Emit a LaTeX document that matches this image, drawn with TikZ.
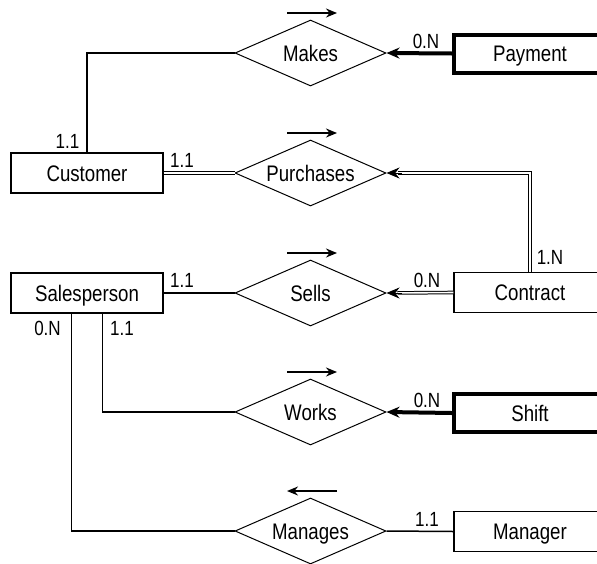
\documentclass[tikz,border=0pt]{standalone}
\usepackage{fontspec}
\setmainfont{Liberation Sans}[FakeStretch=0.83]
\usetikzlibrary{shapes.geometric,arrows.meta,calc}
\begin{document}
\begin{tikzpicture}[x=1pt,y=-1pt,
  ent/.style={draw, line width=1.3pt, minimum width=152pt, minimum height=40pt, inner sep=0pt,
    font=\fontsize{22.5}{22.5}\selectfont, text height=16pt, text depth=0pt},
  wk/.style={ent, line width=4pt, minimum height=38pt},
  rel/.style={draw, diamond, line width=1pt, minimum width=151pt, minimum height=66pt, inner sep=0pt,
    aspect=2.3, font=\fontsize{22.5}{22.5}\selectfont, text height=16pt, text depth=0pt},
  lab/.style={inner sep=0pt, font=\fontsize{20.5}{20.5}\selectfont},
  ln/.style={line width=1.5pt},
  thk/.style={line width=4pt},
  dbl/.style={double, double distance=1.6pt, line width=1pt},
  tip/.style={-{Stealth[length=13pt,width=11pt]}},
  dirarr/.style={line width=1.6pt, -{Stealth[length=11pt,width=9pt]}}
]
\useasboundingbox (0,0) rectangle (597,563);
\clip (0,0) rectangle (597,563);

% relationships
\node[rel] (makes) at (310.5,53) {Makes};
\node[rel] (purch) at (310.5,173) {Purchases};
\node[rel] (sells) at (310.5,293) {Sells};
\node[rel] (works) at (310.5,412) {Works};
\node[rel] (manages) at (310.5,531) {Manages};

% entities
\node[ent] (cust) at (87,173) {Customer};
\node[ent] (sales) at (87,293) {Salesperson};
\node[wk] (pay) at (530,53.5) {Payment};
\node[ent] (contr) at (530,292.5) {Contract};
\node[wk] (shift) at (530,413) {Shift};
\node[ent] (mgr) at (530,531.5) {Manager};

% direction arrows
\coordinate (m1) at (287,13); \coordinate (m2) at (337,13);
\coordinate (p1) at (287,133); \coordinate (p2) at (337,133);
\coordinate (s1) at (287,253); \coordinate (s2) at (337,253);
\coordinate (w1) at (287,372); \coordinate (w2) at (337,372);
\coordinate (g1) at (287,491); \coordinate (g2) at (337,491);
\draw[dirarr] (m1) -- (m2);
\draw[dirarr] (p1) -- (p2);
\draw[dirarr] (s1) -- (s2);
\draw[dirarr] (w1) -- (w2);
\draw[dirarr] (g2) -- (g1);

% connectors
\draw[ln] (cust.north) |- (makes.west);
\draw[thk, tip] (pay.west) -- (makes.east);
\draw[dbl] (cust.east) -- (purch.west);
\draw[dbl, shorten >=11pt] (contr.north) |- (purch.east);
\coordinate (pa) at ($(purch.east)+(15,0)$);
\draw[line width=1pt, tip] (pa) -- (purch.east);
\draw[ln] (sales.east) -- (sells.west);
\draw[dbl, shorten >=11pt] (contr.west) -- (sells.east);
\coordinate (sa) at ($(sells.east)+(15,0)$);
\draw[line width=1pt, tip] (sa) -- (sells.east);
\draw[ln] ([xshift=15.5pt]sales.south) |- (works.west);
\draw[thk, tip] (shift.west) -- (works.east);
\draw[ln] ([xshift=-15.5pt]sales.south) |- (manages.west);
\draw[ln] (manages.east) -- (mgr.west);

% labels
\node[lab] (l1) at (67.5,141.5) {1.1};
\node[lab] (l2) at (182,160) {1.1};
\node[lab] (l3) at (426,41) {0.N};
\node[lab] (l4) at (550,257) {1.N};
\node[lab] (l5) at (182,280) {1.1};
\node[lab] (l6) at (427,280) {0.N};
\node[lab] (l7) at (47.5,328) {0.N};
\node[lab] (l8) at (122,328) {1.1};
\node[lab] (l9) at (427,400) {0.N};
\node[lab] (l10) at (427,519.5) {1.1};
\end{tikzpicture}
\end{document}
